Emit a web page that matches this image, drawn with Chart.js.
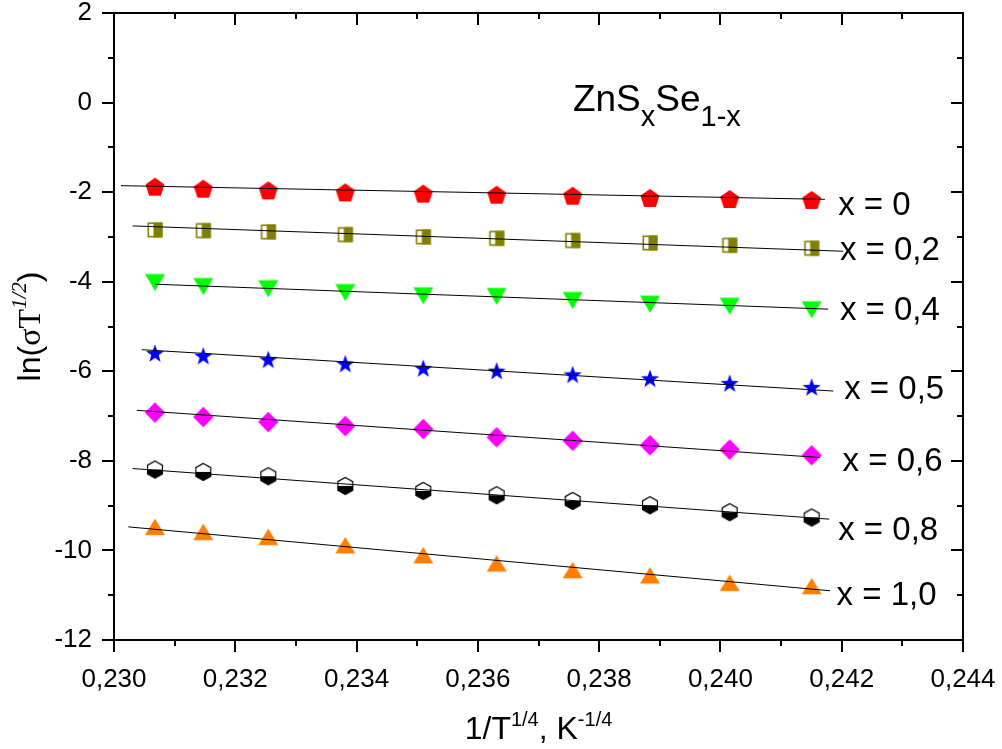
<!DOCTYPE html>
<html><head><meta charset="utf-8">
<script src="https://cdn.jsdelivr.net/npm/chart.js@4.4.0/dist/chart.umd.min.js"></script>
<style>html,body{margin:0;padding:0;background:#fff;overflow:hidden}#wrap{width:1002px;height:749px}</style>
</head><body><div id="wrap"><canvas id="c" width="1002" height="749"></canvas></div>
<script>
// ---- data ----
const invT = [0.230676, 0.231472, 0.232544, 0.233814, 0.235100, 0.236310, 0.237563, 0.238838, 0.240152, 0.241504];
const lnX00 = [-1.877, -1.922, -1.960, -2.004, -2.033, -2.056, -2.078, -2.129, -2.152, -2.174];
const lnX02 = [-2.843, -2.859, -2.888, -2.948, -2.999, -3.030, -3.081, -3.133, -3.186, -3.253];
const lnX04 = [-4.018, -4.107, -4.158, -4.241, -4.314, -4.330, -4.419, -4.502, -4.547, -4.627];
const lnX05 = [-5.594, -5.652, -5.735, -5.830, -5.929, -5.987, -6.069, -6.158, -6.263, -6.352];
const lnX06 = [-6.923, -7.021, -7.133, -7.222, -7.289, -7.474, -7.552, -7.652, -7.748, -7.875];
const lnX08 = [-8.194, -8.247, -8.343, -8.560, -8.671, -8.767, -8.894, -8.990, -9.146, -9.264];
const lnX10 = [-9.474, -9.585, -9.697, -9.882, -10.105, -10.290, -10.439, -10.557, -10.722, -10.796];
// linear fit lines: [start, end]
const fitX00 = [0.230115, 0.241723], fitY00 = [-1.855, -2.161];
const fitX02 = [0.230308, 0.242025], fitY02 = [-2.754, -3.320];
const fitX04 = [0.230676, 0.241778], fitY04 = [-4.056, -4.613];
const fitX05 = [0.230457, 0.241860], fitY05 = [-5.518, -6.441];
const fitX06 = [0.230374, 0.241641], fitY06 = [-6.872, -7.926];
const fitX08 = [0.230308, 0.241794], fitY08 = [-8.172, -9.302];
const fitX10 = [0.230236, 0.241806], fitY10 = [-9.474, -10.901];
const seriesLabels = ['x = 0', 'x = 0,2', 'x = 0,4', 'x = 0,5', 'x = 0,6', 'x = 0,8', 'x = 1,0'];
const xTickStep = 0.002, yTickStep = 2;
const xMin = 0.230, xMax = 0.244, yMin = -12, yMax = 2;

// ---- label anchors (data coordinates) ----
const labelAnchorX = [0.241942, 0.241970, 0.241970, 0.242041, 0.242015, 0.241942, 0.241916];
const labelAnchorY = [-2.301, -3.320, -4.642, -6.426, -8.025, -9.563, -11.019];

// ---- marker images ----
function mk(w, h, draw) {
  const c = document.createElement('canvas'); c.width = w; c.height = h;
  const g = c.getContext('2d'); g.translate(w / 2, h / 2); draw(g); return c;
}
function poly(g, pts) { g.beginPath(); pts.forEach((p, i) => i ? g.lineTo(p[0], p[1]) : g.moveTo(p[0], p[1])); g.closePath(); }
const mPentagon = mk(24, 24, g => {
  const r = 10, off = 0.0955 * r, pts = [];
  for (let k = 0; k < 5; k++) { const a = -Math.PI / 2 + k * 2 * Math.PI / 5; pts.push([r * Math.cos(a), r * Math.sin(a) + off]); }
  poly(g, pts); g.fillStyle = '#ff0000'; g.fill();
});
const mHalfSquare = mk(18, 18, g => {
  g.fillStyle = '#ffffff'; g.fillRect(-7.5, -7.5, 15, 15);
  g.fillStyle = '#808000'; g.fillRect(-1.5, -7.5, 9, 15);
  g.strokeStyle = '#808000'; g.lineWidth = 1.6; g.strokeRect(-6.7, -6.7, 13.4, 13.4);
});
const mTriDown = mk(24, 22, g => {
  poly(g, [[-10, -8.5], [10, -8.5], [0, 8.5]]); g.fillStyle = '#00ff00'; g.fill();
});
const mStar = mk(22, 22, g => {
  const R = 9.6, r = 3.9, off = 0.0955 * R, pts = [];
  for (let k = 0; k < 10; k++) { const a = -Math.PI / 2 + k * Math.PI / 5, rr = k % 2 ? r : R; pts.push([rr * Math.cos(a), rr * Math.sin(a) + off]); }
  poly(g, pts); g.fillStyle = '#0000ff'; g.fill();
});
const mDiamond = mk(24, 24, g => {
  poly(g, [[0, -10.2], [10.2, 0], [0, 10.2], [-10.2, 0]]); g.fillStyle = '#ff00ff'; g.fill();
});
const mHexagon = mk(22, 22, g => {
  const r = 8.6, pts = [];
  for (let k = 0; k < 6; k++) { const a = -Math.PI / 2 + k * Math.PI / 3; pts.push([r * Math.cos(a), r * Math.sin(a)]); }
  poly(g, pts); g.fillStyle = '#ffffff'; g.fill();
  g.save(); g.beginPath(); g.rect(-11, 0, 22, 11); g.clip(); poly(g, pts); g.fillStyle = '#000'; g.fill(); g.restore();
  poly(g, pts); g.strokeStyle = '#000'; g.lineWidth = 1.2; g.stroke();
});
const mTriUp = mk(24, 22, g => {
  poly(g, [[0, -8.2], [10, 8.2], [-10, 8.2]]); g.fillStyle = '#ff8000'; g.fill();
});

const pts = (xs, ys) => xs.map((v, i) => ({ x: v, y: ys[i] }));
const seriesY = [lnX00, lnX02, lnX04, lnX05, lnX06, lnX08, lnX10];
const fitXs = [fitX00, fitX02, fitX04, fitX05, fitX06, fitX08, fitX10];
const fitYs = [fitY00, fitY02, fitY04, fitY05, fitY06, fitY08, fitY10];
const markers = [mPentagon, mHalfSquare, mTriDown, mStar, mDiamond, mHexagon, mTriUp];

const datasets = [];
seriesY.forEach((ys, i) => {
  datasets.push({ label: seriesLabels[i], data: pts(invT, ys), showLine: false, pointStyle: markers[i], pointRadius: 9, pointHoverRadius: 9, order: 2 });
});
fitXs.forEach((xs, i) => {
  datasets.push({ label: 'fit ' + seriesLabels[i], data: pts(xs, fitYs[i]), showLine: true, borderColor: '#000', borderWidth: 1, pointRadius: 0, pointHoverRadius: 0, fill: false, order: 1 });
});

const SANS = '"Liberation Sans", Arial, sans-serif';
const SERIF = '"Liberation Serif", "Times New Roman", serif';

function drawRich(ctx, segs, x, y, align) {
  let total = 0;
  for (const s of segs) { ctx.font = s.f; s.w = ctx.measureText(s.t).width; total += s.w; }
  let cx = align === 'center' ? x - total / 2 : x;
  for (const s of segs) { ctx.font = s.f; ctx.fillText(s.t, cx, y + (s.dy || 0)); cx += s.w; }
}

const decorPlugin = {
  id: 'decor',
  afterDatasetsDraw(chart) {
    const { ctx, chartArea: a, scales: { x, y } } = chart;
    ctx.save();
    ctx.strokeStyle = '#000'; ctx.lineWidth = 2; ctx.lineCap = 'butt';
    ctx.strokeRect(a.left, a.top, a.right - a.left, a.bottom - a.top);
    ctx.beginPath();
    for (let i = 0; i <= 14; i++) {
      const v = xMin + i * 0.001, px = Math.round(x.getPixelForValue(v)), L = i % 2 ? 6 : 12;
      ctx.moveTo(px, a.bottom); ctx.lineTo(px, a.bottom + L);
      ctx.moveTo(px, a.top); ctx.lineTo(px, a.top + L);
    }
    for (let i = 0; i <= 14; i++) {
      const v = yMin + i, py = Math.round(y.getPixelForValue(v)), L = i % 2 ? 6 : 12;
      ctx.moveTo(a.left, py); ctx.lineTo(a.left - L, py);
      ctx.moveTo(a.right, py); ctx.lineTo(a.right - L, py);
    }
    ctx.stroke();

    ctx.fillStyle = '#000';
    // series labels
    ctx.textAlign = 'left'; ctx.textBaseline = 'middle';
    ctx.font = '33px ' + SANS;
    seriesLabels.forEach((t, i) => ctx.fillText(t, x.getPixelForValue(labelAnchorX[i]), y.getPixelForValue(labelAnchorY[i])));
    // compound name
    ctx.textBaseline = 'alphabetic';
    drawRich(ctx, [
      { t: 'ZnS', f: '37px ' + SANS }, { t: 'x', f: '29px ' + SANS, dy: 15 },
      { t: 'Se', f: '37px ' + SANS }, { t: '1-x', f: '29px ' + SANS, dy: 15 }
    ], x.getPixelForValue(0.237568), y.getPixelForValue(-0.183), 'left');
    // x axis title
    drawRich(ctx, [
      { t: '1/T', f: '32px ' + SANS }, { t: '1/4', f: '20px ' + SANS, dy: -13 },
      { t: ', K', f: '32px ' + SANS }, { t: '-1/4', f: '20px ' + SANS, dy: -13 }
    ], (a.left + a.right) / 2, 739, 'center');
    // y axis title
    ctx.translate(40, (a.top + a.bottom) / 2);
    ctx.rotate(-Math.PI / 2);
    drawRich(ctx, [
      { t: 'ln(', f: '32px ' + SANS }, { t: 'σT', f: '32px ' + SERIF },
      { t: '1/2', f: 'italic 21px ' + SERIF, dy: -14 }, { t: ')', f: '32px ' + SANS }
    ], 0, 0, 'center');
    ctx.restore();
  }
};

Chart.defaults.font.family = SANS;
Chart.defaults.color = '#000';

new Chart(document.getElementById('c'), {
  type: 'scatter',
  data: { datasets },
  options: {
    responsive: false, animation: false, devicePixelRatio: 1,
    layout: { padding: { top: 13, right: 39, left: 0, bottom: 0 } },
    plugins: { legend: { display: false }, tooltip: { enabled: false } },
    events: [],
    scales: {
      x: {
        type: 'linear', min: xMin, max: xMax,
        grid: { display: false, drawTicks: false }, border: { display: false },
        ticks: { stepSize: xTickStep, padding: 24, color: '#000', font: { size: 26, lineHeight: 1.2 }, maxRotation: 0, autoSkip: false,
          callback: v => v.toFixed(3).replace('.', ',') },
        afterFit(s) { s.height = 109; s.paddingLeft = 0; s.paddingRight = 0; }
      },
      y: {
        type: 'linear', min: yMin, max: yMax,
        grid: { display: false, drawTicks: false }, border: { display: false },
        ticks: { stepSize: yTickStep, padding: 22, color: '#000', font: { size: 26, lineHeight: 1.2 },
          callback: v => String(Math.round(v)) },
        afterFit(s) { s.width = 114; s.paddingTop = 0; s.paddingBottom = 0; }
      }
    }
  },
  plugins: [decorPlugin]
});
</script>
</body></html>
